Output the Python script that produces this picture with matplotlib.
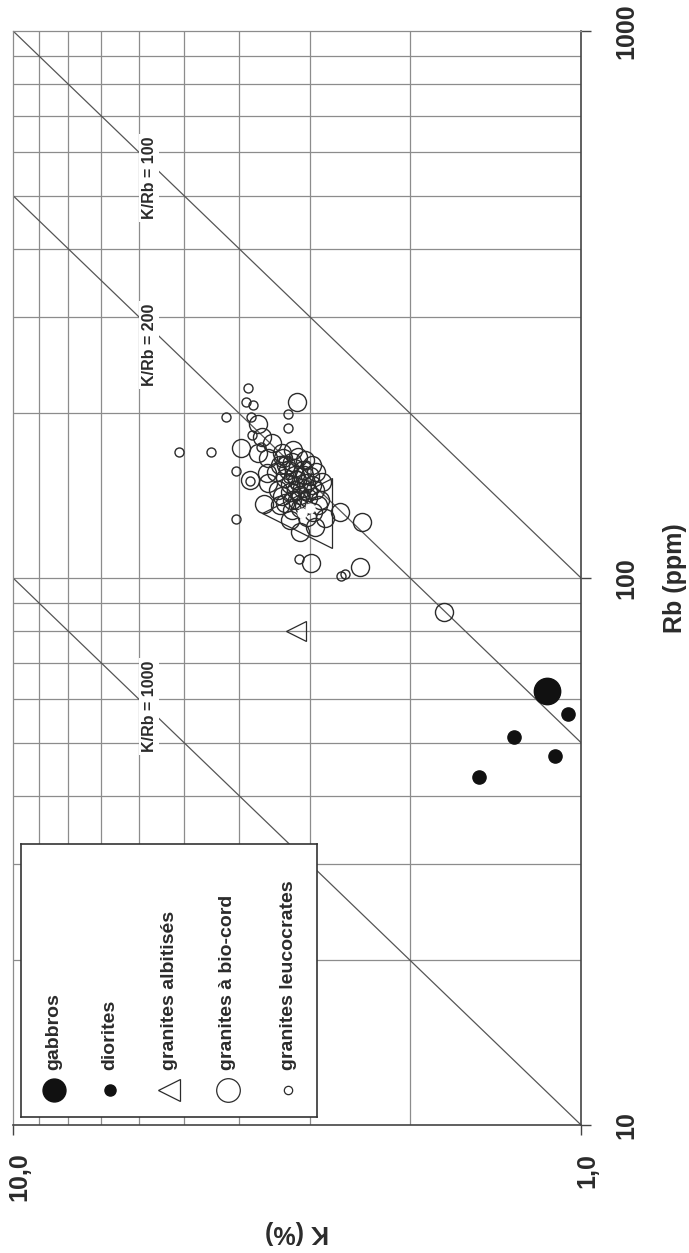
import matplotlib.pyplot as plt
import numpy as np
from matplotlib.ticker import NullLocator
from matplotlib.transforms import ScaledTranslation

plt.rcParams['font.family'] = ['Liberation Sans', 'DejaVu Sans']

# K (%) / Rb (ppm)
gabbros_k = [1.149]
gabbros_rb = [62.2]

diorites_k = [1.053, 1.312, 1.110, 1.512]
diorites_rb = [56.3, 51.3, 47.3, 43.2]

albit_k = [3.17, 3.16]
albit_rb = [80.1, 131.5]

biocord_k = [3.166, 3.973, 3.699, 3.649, 3.504, 3.699, 3.210, 3.552, 3.365, 3.061,
             3.826, 3.575, 2.861, 3.552, 3.622, 3.253, 3.040, 2.823, 3.124, 2.940,
             2.656, 2.433, 2.988, 2.446, 1.743,
             3.388, 3.227, 3.086, 3.320, 3.162, 3.000, 3.415, 3.253, 3.099, 2.940,
             3.320, 3.162, 3.024, 2.881, 3.227, 3.074, 3.280, 3.124, 2.976, 3.188,
             3.347, 3.149, 2.976, 3.443, 3.049, 3.253, 3.361, 2.904, 3.124, 2.964,
             3.201, 3.024, 3.306, 3.175, 3.074, 2.928, 3.388, 3.227]
biocord_rb = [209.5, 172.6, 191.2, 181.3, 176.3, 169.0, 171.4, 165.5, 169.0, 164.3,
              151.1, 155.4, 150.0, 149.0, 136.6, 127.7, 129.4, 128.6, 121.5, 124.1,
              132.2, 126.7, 106.4, 104.7, 86.6,
              160.9, 163.0, 157.6, 152.3, 151.1, 153.6, 144.8, 143.6, 146.1, 144.8,
              137.1, 138.9, 140.0, 138.9, 133.1, 135.4, 157.6, 141.8, 147.9, 154.3,
              165.7, 166.4, 160.9, 156.2, 149.2, 148.6, 141.2, 136.0, 134.3, 132.0,
              158.9, 143.6, 160.9, 144.8, 154.3, 156.2, 136.0, 138.9]

leuco_k = [3.862, 3.893, 3.775, 4.217, 3.284, 3.815, 3.284, 5.096, 4.481, 4.050,
           3.800, 3.659, 4.043, 3.820, 3.143, 2.651, 2.604, 3.188, 3.061, 3.347,
           3.175, 3.280, 3.049,
           3.103, 3.000]
leuco_rb = [222.8, 209.5, 207.2, 196.7, 199.2, 196.7, 187.8, 169.8, 169.8, 157.1,
            182.6, 173.8, 128.0, 150.6, 108.5, 100.8, 101.6, 147.9, 141.8, 164.3,
            141.2, 152.3, 160.9,
            131.3, 134.1]

ratios = [100, 200, 1000]
ratio_label_rb = [539, 267, 58.3]
ratio_label_k = 5.76

legend_labels = ['gabbros', 'diorites', 'granites albitisés',
                 'granites à bio-cord', 'granites leucocrates']

dark = '#2b2b2b'
grid_c = '#8c8c8c'

fig = plt.figure(figsize=(6.89, 12.53), dpi=100)
ax = fig.add_axes([0.0189, 0.1022, 0.8244, 0.8731])
ax.set_xscale('log')
ax.set_yscale('log')
ax.set_xlim(10, 1)
ax.set_ylim(10, 1000)
ax.xaxis.set_minor_locator(NullLocator())
ax.yaxis.set_minor_locator(NullLocator())

# grid
for k in range(2, 10):
    ax.axvline(k, color=grid_c, lw=0.9, zorder=0)
for rb in list(range(20, 100, 10)) + list(range(100, 1000, 100)):
    ax.axhline(rb, color=grid_c, lw=0.9, zorder=0)

for side in ['top', 'left']:
    ax.spines[side].set_color(grid_c)
    ax.spines[side].set_linewidth(0.9)
for side in ['bottom', 'right']:
    ax.spines[side].set_color('#444444')
    ax.spines[side].set_linewidth(1.2)

# K/Rb lines
for r, lrb in zip(ratios, ratio_label_rb):
    rb = np.array([max(10, 10000 / r), min(1000, 100000 / r)])
    ax.plot(r * rb / 10000, rb, color='#555555', lw=0.9, zorder=1)
    ax.text(ratio_label_k, lrb, 'K/Rb = %d' % r, rotation=90, ha='center', va='center',
            fontsize=11.5, fontweight='bold', color=dark, zorder=2,
            bbox=dict(fc='white', ec='none', pad=2))

# data
ax.plot(biocord_k, biocord_rb, 'o', ms=13, mfc='none', mec=dark, mew=1.0, zorder=3)
ax.plot(leuco_k[:-2], leuco_rb[:-2], 'o', ms=6.5, mfc='none', mec=dark, mew=1.0, zorder=3)
ax.plot(leuco_k[-2:], leuco_rb[-2:], 'o', ms=6.5, mfc='white', mec='white', mew=0.9, zorder=4)
ax.plot(albit_k[:1], albit_rb[:1], '<', ms=15, mfc='none', mec=dark, mew=0.9, zorder=3)
ax.plot(albit_k[1:], albit_rb[1:], '<', ms=50, mfc='none', mec=dark, mew=0.9, zorder=3)
ax.plot(gabbros_k, gabbros_rb, 'o', ms=19, color='#111111', zorder=3)
ax.plot(diorites_k, diorites_rb, 'o', ms=9.5, color='#111111', zorder=3)

# ticks / labels
ax.yaxis.tick_right()
ax.set_yticks([10, 100, 1000], labels=['10', '100', '1000'], rotation=90, va='center',
              fontsize=18, fontweight='bold', color=dark)
ax.set_xticks([10, 1], labels=['10,0', '1,0'], rotation=90,
              fontsize=18, fontweight='bold', color=dark)
ax.tick_params(axis='x', direction='out', length=7, width=1, pad=13, color='#444444')
ax.tick_params(axis='y', direction='out', length=7, width=1, pad=17, color='#444444')
shift = ScaledTranslation(6 / 100, 0, fig.dpi_scale_trans)
for lab in ax.get_xticklabels():
    lab.set_transform(lab.get_transform() + shift)

ax.yaxis.set_label_position('right')
ax.set_ylabel('Rb (ppm)', rotation=90, ha='center', va='center', rotation_mode='anchor',
              fontsize=18, fontweight='bold', color=dark)
ax.yaxis.set_label_coords(1.1655, 0.5)
ax.set_xlabel('K (%)', rotation=180, ha='center', va='center', rotation_mode='anchor',
              fontsize=18, fontweight='bold', color=dark)
ax.xaxis.set_label_coords(0.5, -0.0978)

# legend box (rotated, drawn by hand)
lax = ax.inset_axes([0.0141, 0.0073, 0.5211, 0.2496])
lax.set_xlim(0, 1)
lax.set_ylim(0, 1)
lax.set_xticks([])
lax.set_yticks([])
lax.set_facecolor('white')
for s in lax.spines.values():
    s.set_color('#333333')
    s.set_linewidth(1.2)
lx = [0.111, 0.301, 0.5, 0.699, 0.902]
lax.plot(lx[0], 0.099, 'o', ms=16.5, color='#111111')
lax.plot(lx[1], 0.099, 'o', ms=8, color='#111111')
lax.plot(lx[2], 0.099, '<', ms=16, mfc='none', mec=dark, mew=0.9)
lax.plot(lx[3], 0.099, 'o', ms=17, mfc='none', mec=dark, mew=0.9)
lax.plot(lx[4], 0.099, 'o', ms=6, mfc='none', mec=dark, mew=0.9)
for x, lab in zip(lx, legend_labels):
    lax.text(x, 0.172, lab, rotation=90, ha='center', va='bottom',
             fontsize=14, fontweight='bold', color=dark)

fig.savefig('out.png', dpi=100)
